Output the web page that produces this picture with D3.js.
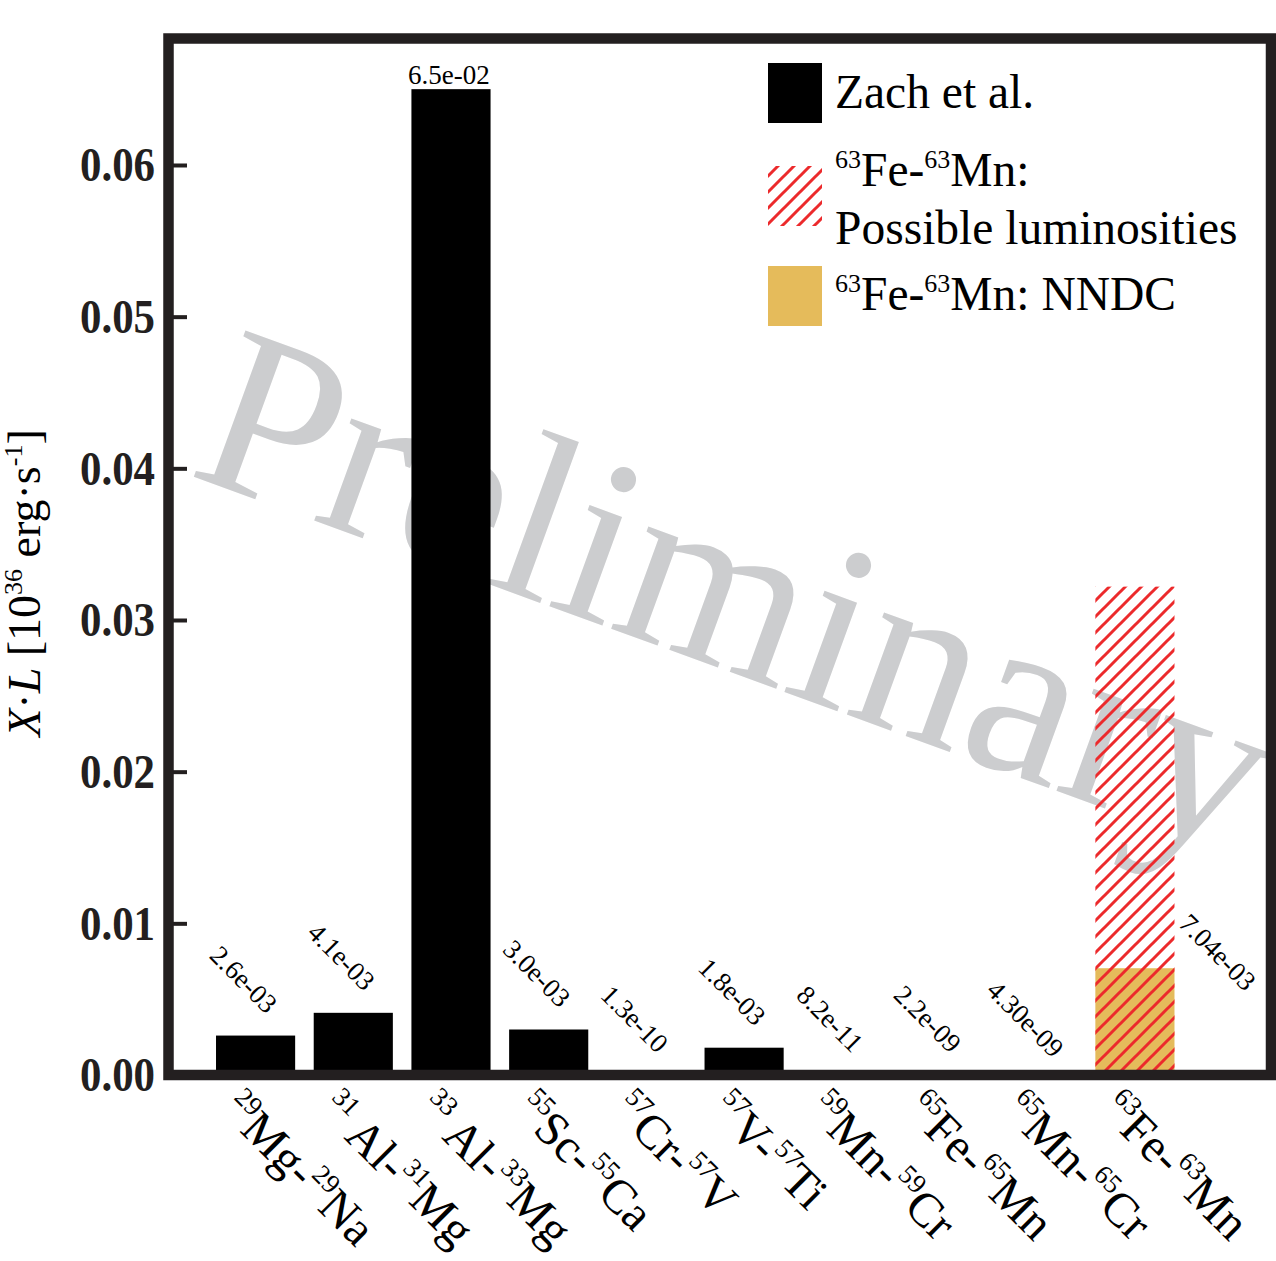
<!DOCTYPE html>
<html>
<head>
<meta charset="utf-8">
<script src="https://cdn.jsdelivr.net/npm/d3@7"></script>
<style>
  html, body { margin: 0; padding: 0; background: #fff; }
  svg { display: block; }
  text { font-family: "Liberation Serif", "Times New Roman", serif; }
</style>
</head>
<body>
<svg id="chart" width="1276" height="1261"></svg>
<script>
// Decay pairs on the x axis (mass number + element for parent and daughter)
const parentMass = ["29", "31", "33", "55", "57", "57", "59", "65", "65", "63"];
const parentEl   = ["Mg", " Al", " Al", "Sc", "Cr", "V", "Mn", "Fe", "Mn", "Fe"];
const daughterMass = ["29", "31", "33", "55", "57", "57", "59", "65", "65", "63"];
const daughterEl   = ["Na", "Mg", "Mg", "Ca", "V", "Ti", "Cr", "Mn", "Cr", "Mn"];

// X·L values (Zach et al.), one per pair; the last pair has no Zach value
const zachLabels = ["2.6e-03", "4.1e-03", "6.5e-02", "3.0e-03", "1.3e-10",
                    "1.8e-03", "8.2e-11", "2.2e-09", "4.30e-09", null];
const zachValues = zachLabels.map(d => d === null ? null : +d);

// 63Fe-63Mn: NNDC value and upper end of possible luminosities
const nndcLabel = "7.04e-03";
const nndcValue = +nndcLabel;
const possibleMax = 0.0322;

const yTicks = [0, 0.01, 0.02, 0.03, 0.04, 0.05, 0.06];

const FRAME = "#231f20";
const RED = "#ec2a2c";
const GOLD = "#e5bb5b";

const svg = d3.select("#chart");
const plotL = 168.5, plotR = 1271, plotT = 38.5, plotB = 1075;

const ids = d3.range(parentEl.length);
const x = d3.scaleBand().domain(ids).range([174, 1216.5])
  .paddingInner(0.19).paddingOuter(0.43);
const y = d3.scaleLinear().domain([0, 0.06834]).range([plotB, plotT]);

// hatch pattern
const defs = svg.append("defs");
defs.append("pattern")
  .attr("id", "hatch").attr("patternUnits", "userSpaceOnUse")
  .attr("width", 16).attr("height", 16)
  .append("path")
  .attr("d", "M-4,4 L4,-4 M0,16 L16,0 M12,20 L20,12")
  .attr("stroke", RED).attr("stroke-width", 3).attr("fill", "none");

defs.append("clipPath").attr("id", "plotClip")
  .append("rect").attr("x", plotL).attr("y", plotT)
  .attr("width", plotR - plotL).attr("height", plotB - plotT);

// watermark
svg.append("g").attr("clip-path", "url(#plotClip)")
  .append("text")
  .attr("transform", "translate(186,474) rotate(20)")
  .attr("font-size", 237).attr("fill", "#cccdcf")
  .text("Preliminary");

// Zach et al. bars
const barData = ids.filter(i => zachValues[i] !== null);
svg.append("g").selectAll("rect").data(barData).join("rect")
  .attr("x", i => x(i))
  .attr("y", i => y(zachValues[i]))
  .attr("width", x.bandwidth())
  .attr("height", i => y(0) - y(zachValues[i]))
  .attr("fill", "#000");

// 63Fe-63Mn bar: NNDC fill plus hatched range of possible luminosities
const lastId = ids[ids.length - 1];
svg.append("rect")
  .attr("x", x(lastId)).attr("y", y(nndcValue))
  .attr("width", x.bandwidth()).attr("height", y(0) - y(nndcValue))
  .attr("fill", GOLD);
svg.append("rect")
  .attr("x", x(lastId)).attr("y", y(possibleMax))
  .attr("width", x.bandwidth()).attr("height", y(0) - y(possibleMax))
  .attr("fill", "url(#hatch)");

// value labels
const vl = svg.append("g").attr("font-size", 27).attr("fill", "#000");
barData.forEach(i => {
  const cx = x(i) + x.bandwidth() / 2;
  const v = zachValues[i];
  if (v > 0.05) {
    vl.append("text").attr("x", cx - 2).attr("y", y(v) - 5)
      .attr("text-anchor", "middle").text(zachLabels[i]);
  } else {
    vl.append("text")
      .attr("transform", `translate(${cx - 12},${y(v) - 56}) rotate(45)`)
      .attr("text-anchor", "middle").attr("dominant-baseline", "central")
      .text(zachLabels[i]);
  }
});
vl.append("text")
  .attr("transform", `translate(${x(lastId) + x.bandwidth() + 43},${y(nndcValue) - 16}) rotate(45)`)
  .attr("text-anchor", "middle").attr("dominant-baseline", "central")
  .text(nndcLabel);

// y axis with inward ticks
const yAxis = svg.append("g").attr("transform", `translate(${plotL},0)`)
  .call(d3.axisLeft(y).tickValues(yTicks).tickFormat(d3.format(".2f"))
    .tickSizeInner(-18.5).tickSizeOuter(0).tickPadding(13.5));
yAxis.select(".domain").remove();
yAxis.selectAll(".tick line").attr("stroke", FRAME).attr("stroke-width", 4);
yAxis.selectAll(".tick text")
  .attr("font-family", "'Liberation Serif', 'Times New Roman', serif")
  .attr("font-size", 49).attr("font-weight", "bold").attr("fill", FRAME)
  .attr("textLength", 75).attr("lengthAdjust", "spacingAndGlyphs");

// x axis with isotope-pair labels
const xAxis = svg.append("g").attr("transform", `translate(0,${plotB})`)
  .call(d3.axisBottom(x).tickSize(0).tickFormat(""));
xAxis.select(".domain").remove();
xAxis.selectAll(".tick text").remove();
xAxis.selectAll(".tick").each(function(i) {
  const t = d3.select(this).append("text")
    .attr("transform", "translate(-36,37) rotate(45)")
    .attr("text-anchor", "start").attr("font-size", 48).attr("fill", "#000");
  t.append("tspan").attr("font-size", 27).attr("dy", -19).text(parentMass[i]);
  t.append("tspan").attr("dy", 19).text(parentEl[i] + "-");
  t.append("tspan").attr("font-size", 27).attr("dy", -19).text(daughterMass[i]);
  t.append("tspan").attr("dy", 19).text(daughterEl[i]);
});

// frame
svg.append("rect")
  .attr("x", plotL).attr("y", plotT)
  .attr("width", plotR - plotL).attr("height", plotB - plotT)
  .attr("fill", "none").attr("stroke", FRAME).attr("stroke-width", 10.5);

// y axis title
const yt = svg.append("text")
  .attr("transform", "translate(40,583) rotate(-90)")
  .attr("text-anchor", "middle").attr("font-size", 46).attr("fill", "#000");
yt.append("tspan").attr("font-style", "italic").text("X");
yt.append("tspan").text("·");
yt.append("tspan").attr("font-style", "italic").text("L");
yt.append("tspan").text(" [10");
yt.append("tspan").attr("font-size", 26).attr("dy", -18).text("36");
yt.append("tspan").attr("dy", 18).text(" erg·s");
yt.append("tspan").attr("font-size", 26).attr("dy", -18).text("-1");
yt.append("tspan").attr("dy", 18).text("]");

// legend
const lg = svg.append("g").attr("font-size", 47.5).attr("fill", "#000");
lg.append("rect").attr("x", 768).attr("y", 63).attr("width", 54).attr("height", 60).attr("fill", "#000");
lg.append("rect").attr("x", 768).attr("y", 166).attr("width", 54).attr("height", 60).attr("fill", "url(#hatch)");
lg.append("rect").attr("x", 768).attr("y", 266).attr("width", 54).attr("height", 60).attr("fill", GOLD);

lg.append("text").attr("x", 835).attr("y", 108).text("Zach et al.");
function pairText(sel, suffix) {
  sel.append("tspan").attr("font-size", 26).attr("dy", -18).text("63");
  sel.append("tspan").attr("dy", 18).text("Fe-");
  sel.append("tspan").attr("font-size", 26).attr("dy", -18).text("63");
  sel.append("tspan").attr("dy", 18).text("Mn" + suffix);
}
pairText(lg.append("text").attr("x", 835).attr("y", 186), ":");
lg.append("text").attr("x", 835).attr("y", 244).text("Possible luminosities");
pairText(lg.append("text").attr("x", 835).attr("y", 310), ": NNDC");
</script>
</body>
</html>
